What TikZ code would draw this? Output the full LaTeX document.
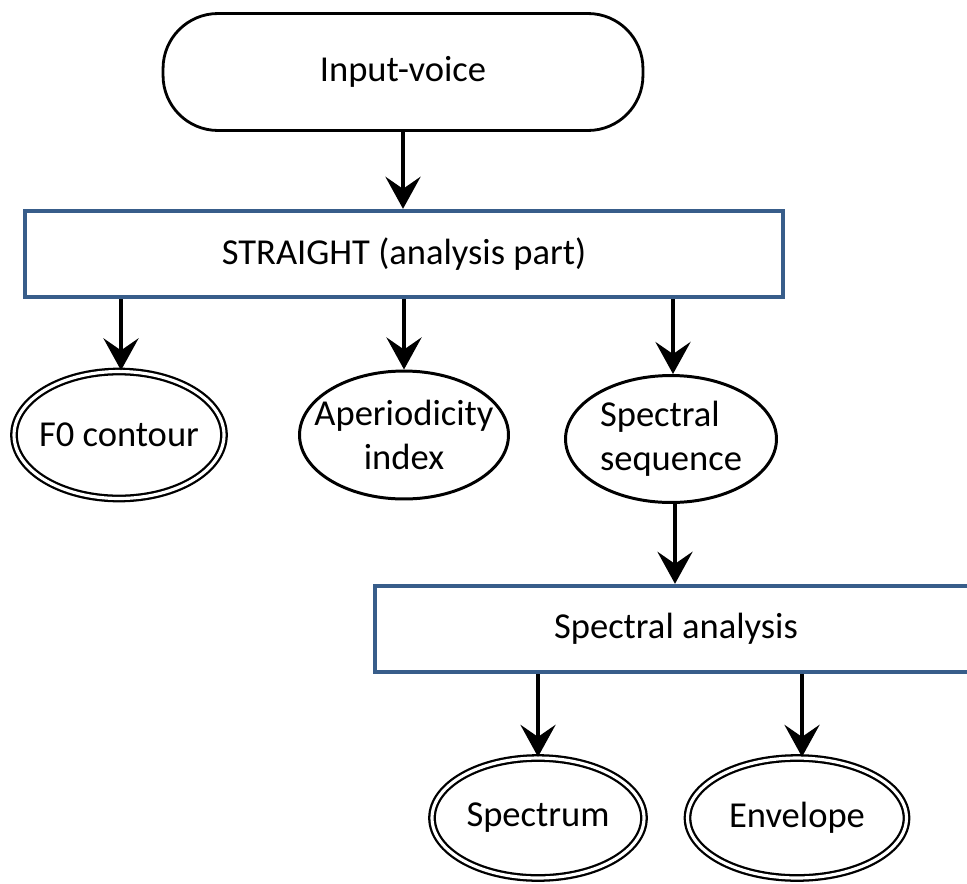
\documentclass[tikz,border=0pt]{standalone}
\usepackage{fontspec}
\setmainfont{Carlito}
\usetikzlibrary{arrows.meta,shapes.geometric}
\definecolor{boxblue}{RGB}{56,93,138}
\begin{document}
\begin{tikzpicture}[x=0.02cm,y=-0.02cm,
  every node/.style={font=\fontsize{20.8}{25}\selectfont},
  terminal/.style={draw, line width=1.6pt, rounded corners=1.1cm,
    minimum width=9.6cm, minimum height=2.34cm},
  procbox/.style={draw=boxblue, line width=2.2pt, rectangle,
    minimum height=1.73cm},
  oval/.style={draw, ellipse, line width=1.7pt, inner sep=-3cm},
  dataoval/.style={ellipse, inner sep=-3cm, draw, line width=1.3pt,
    double, double distance=1.8pt},
  flow/.style={line width=2.5pt,
    -{Stealth[length=0.64cm, width=0.7cm, inset=0.24cm]}}]
  \clip (0,0) rectangle (967,883);

  % source and main analysis stage
  \node[terminal] (inp) at (403,72) {Input-voice};
  \node[procbox, minimum width=15.16cm] (straight) at (404,254)
    {STRAIGHT (analysis part)};

  % outputs of the analysis stage
  \node[dataoval, minimum width=4.2cm, minimum height=2.54cm] (f0) at (119,435)
    {F0 contour};
  \node[oval, minimum width=4.18cm, minimum height=2.56cm, align=center] (aper)
    at (404,435) {Aperiodicity\\index};
  \node[oval, minimum width=4.22cm, minimum height=2.54cm, align=left] (spseq)
    at (671,439) {Spectral\\sequence};

  % spectral analysis stage and its results
  \node[procbox, minimum width=12.04cm] (spana) at (676,629) {Spectral analysis};
  \node[dataoval, minimum width=4.24cm, minimum height=2.4cm] (spec)
    at (538,818) {Spectrum};
  \node[dataoval, minimum width=4.38cm, minimum height=2.4cm] (env)
    at (797,818) {Envelope};

  % connectors
  \draw[flow] (inp.south) -- (inp.south |- straight.north);
  \draw[flow] (straight.south -| 121,0) -- (f0.north -| 121,0);
  \draw[flow] (straight.south -| aper.north) -- (aper.north);
  \draw[flow] (straight.south -| 673,0) -- (spseq.north -| 673,0);
  \draw[flow] (spseq.south -| 675,0) -- (spana.north -| 675,0);
  \draw[flow] (spana.south -| spec.north) -- (spec.north);
  \draw[flow] (spana.south -| 802,0) -- (env.north -| 802,0);
\end{tikzpicture}
\end{document}
